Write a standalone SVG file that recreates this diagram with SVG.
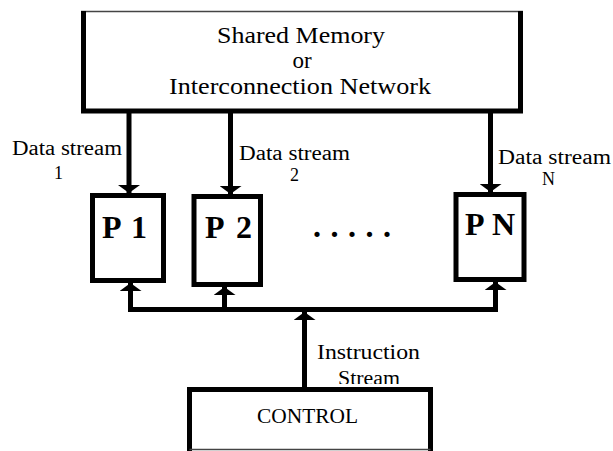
<svg xmlns="http://www.w3.org/2000/svg" width="613" height="451" viewBox="0 0 613 451">
<style>
.box{fill:#fff;stroke:#000;stroke-width:5}
.edge{fill:none;stroke:#000;stroke-width:5}
.thin{fill:none;stroke:#444;stroke-width:1.5}
.t{font-family:"Liberation Serif","Times New Roman",serif;fill:#000}
.big{font-size:23px}
.lbl{font-size:20px}
.num{font-size:18px}
.proc{font-size:32px;font-weight:bold}
</style>
<defs>
<marker id="ah" viewBox="0 0 8 22" refX="8" refY="11" markerWidth="8" markerHeight="22" markerUnits="userSpaceOnUse" orient="auto">
<path d="M0,0 L8,11 L0,22 z" fill="#000"/>
</marker>
<clipPath id="clipStream"><rect x="300" y="330" width="150" height="54"/></clipPath>
</defs>
<rect width="613" height="451" fill="#fff"/>

<g id="connectors">
<path class="edge" d="M129,113 V193" marker-end="url(#ah)"/>
<path class="edge" d="M230.5,113 V194" marker-end="url(#ah)"/>
<path class="edge" d="M490.5,113 V192" marker-end="url(#ah)"/>
<path class="edge" d="M128,309.5 H498"/>
<path class="edge" d="M130.5,309.5 V283" marker-end="url(#ah)"/>
<path class="edge" d="M224.5,309.5 V287" marker-end="url(#ah)"/>
<path class="edge" d="M495.5,309.5 V282" marker-end="url(#ah)"/>
<path class="edge" d="M304.5,389 V312" marker-end="url(#ah)"/>
</g>

<g id="memory">
<rect x="83.5" y="11.5" width="437" height="99.5" fill="#fff"/>
<path class="thin" d="M81,11.5 H523"/>
<path class="edge" d="M83.5,11 V111 H520.5 V11"/>
<text class="t big" x="217" y="43" textLength="168" lengthAdjust="spacingAndGlyphs">Shared Memory</text>
<text class="t big" x="302" y="68" text-anchor="middle">or</text>
<text class="t big" x="169" y="94" textLength="262" lengthAdjust="spacingAndGlyphs">Interconnection Network</text>
</g>

<g id="labels">
<text class="t lbl" x="12" y="155" textLength="110" lengthAdjust="spacingAndGlyphs">Data stream</text>
<text class="t num" x="58.5" y="179" text-anchor="middle">1</text>
<text class="t lbl" x="239" y="160" textLength="111" lengthAdjust="spacingAndGlyphs">Data stream</text>
<text class="t num" x="294.5" y="181" text-anchor="middle">2</text>
<text class="t lbl" x="498" y="164" textLength="113" lengthAdjust="spacingAndGlyphs">Data stream</text>
<text class="t num" x="548.5" y="185" text-anchor="middle">N</text>
<text class="t lbl" x="317" y="359" textLength="103" lengthAdjust="spacingAndGlyphs">Instruction</text>
<text class="t lbl" x="338" y="385" textLength="62" lengthAdjust="spacingAndGlyphs" clip-path="url(#clipStream)">Stream</text>
</g>

<g id="p1">
<rect class="box" x="92.5" y="195.5" width="71" height="85"/>
<text class="t proc" x="102" y="238" textLength="45">P 1</text>
</g>
<g id="p2">
<rect class="box" x="194" y="196.5" width="66.5" height="88"/>
<text class="t proc" x="205" y="238" textLength="47">P 2</text>
</g>
<g id="dots">
<text class="t proc" x="313" y="237" textLength="78" lengthAdjust="spacing">. . . . .</text>
</g>
<g id="pn">
<rect class="box" x="456" y="194.5" width="68" height="85"/>
<text class="t proc" x="465" y="235" textLength="50">P N</text>
</g>

<g id="control">
<rect x="189.5" y="389.5" width="241" height="62" fill="#fff"/>
<path class="edge" d="M189.5,451 V389.5 H430.5 V451"/>
<path class="thin" d="M189.5,449.5 H430.5"/>
<text class="t" x="257" y="423" style="font-size:20px" textLength="101" lengthAdjust="spacingAndGlyphs">CONTROL</text>
</g>
</svg>
